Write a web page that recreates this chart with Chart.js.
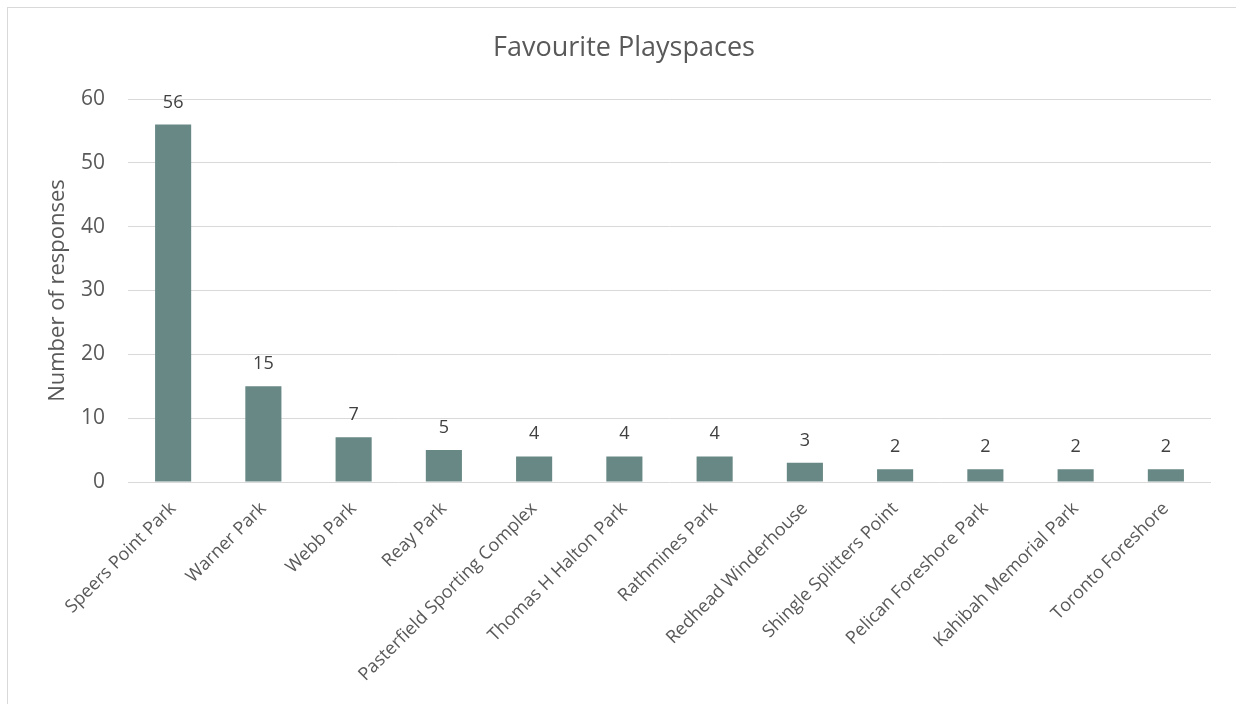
<!DOCTYPE html>
<html>
<head>
<meta charset="utf-8">
<title>Favourite Playspaces</title>
<script src="https://cdn.jsdelivr.net/npm/chart.js@4/dist/chart.umd.min.js"></script>
<style>
  html, body { margin: 0; padding: 0; background: #fff; overflow: hidden; }
  .marco { position: absolute; left: 7px; top: 7px; width: 1232px; height: 800px; border: 1px solid #d9d9d9; }
  #grafico { position: absolute; left: 0; top: 0; }
</style>
</head>
<body>
<div class="marco"></div>
<canvas id="grafico" width="1236" height="704"></canvas>
<script>
// Datos de la encuesta
const parques = [
    'Speers Point Park', 'Warner Park', 'Webb Park', 'Reay Park',
    'Pasterfield Sporting Complex', 'Thomas H Halton Park', 'Rathmines Park',
    'Redhead Winderhouse', 'Shingle Splitters Point', 'Pelican Foreshore Park',
    'Kahibah Memorial Park', 'Toronto Foreshore'
];
const respuestas = [56, 15, 7, 5, 4, 4, 4, 3, 2, 2, 2, 2];
const ticksY = [0, 10, 20, 30, 40, 50, 60];
const titulo = 'Favourite Playspaces';

const fuente = '"Open Sans", "Noto Sans", sans-serif';

// Título centrado sobre el marco (el marco es un poco más ancho que el canvas)
const tituloMarco = {
    id: 'tituloMarco',
    afterDraw(chart) {
        const ctx = chart.ctx;
        const marco = document.querySelector('.marco');
        const centro = marco.offsetLeft + marco.offsetWidth / 2;
        ctx.save();
        ctx.font = '27px ' + fuente;
        ctx.fillStyle = '#595959';
        ctx.textAlign = 'center';
        ctx.textBaseline = 'middle';
        ctx.fillText(titulo, centro, 48);
        ctx.restore();
    }
};

// Etiqueta con el valor encima de cada barra
const etiquetasBarras = {
    id: 'etiquetasBarras',
    afterDatasetsDraw(chart) {
        const ctx = chart.ctx;
        const meta = chart.getDatasetMeta(0);
        ctx.save();
        ctx.font = '18px ' + fuente;
        ctx.fillStyle = '#404040';
        ctx.textAlign = 'center';
        ctx.textBaseline = 'alphabetic';
        meta.data.forEach((barra, i) => {
            ctx.fillText(String(respuestas[i]), barra.x, barra.y - 17);
        });
        ctx.restore();
    }
};

const ctx = document.getElementById('grafico').getContext('2d');
new Chart(ctx, {
    type: 'bar',
    data: {
        labels: parques,
        datasets: [{
            data: respuestas,
            backgroundColor: '#678884',
            borderWidth: 0,
            categoryPercentage: 1,
            barPercentage: 0.4
        }]
    },
    options: {
        responsive: false,
        animation: false,
        layout: { padding: { left: 0, right: 25, top: 99, bottom: 0 } },
        plugins: {
            legend: { display: false },
            tooltip: { enabled: false },
            title: { display: false }
        },
        scales: {
            x: {
                grid: { display: false },
                border: { display: false },
                ticks: {
                    color: '#595959',
                    font: { family: fuente, size: 18 },
                    minRotation: 45,
                    maxRotation: 45,
                    autoSkip: false,
                    padding: 8
                },
                afterFit: (escala) => { escala.height = 222; }
            },
            y: {
                min: 0,
                max: 60,
                afterBuildTicks: (escala) => { escala.ticks = ticksY.map(v => ({ value: v })); },
                grid: { color: '#d9d9d9', lineWidth: 1, drawTicks: false },
                border: { display: false },
                ticks: {
                    color: '#595959',
                    font: { family: fuente, size: 21 },
                    padding: 23
                },
                title: {
                    display: true,
                    text: 'Number of responses',
                    color: '#595959',
                    font: { family: fuente, size: 22, weight: 'normal' },
                    padding: { top: 45, bottom: 0 }
                },
                afterFit: (escala) => { escala.width = 128; }
            }
        }
    },
    plugins: [etiquetasBarras, tituloMarco]
});
</script>
</body>
</html>
